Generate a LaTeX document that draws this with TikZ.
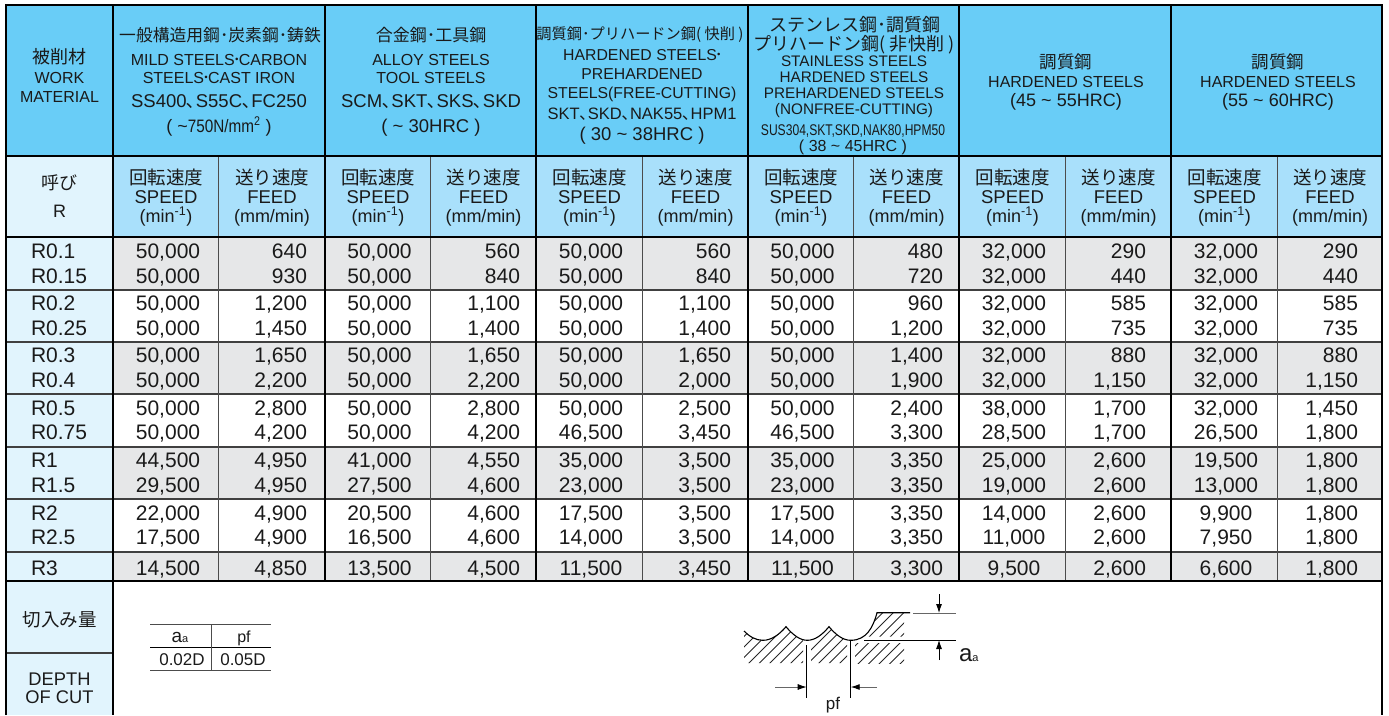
\documentclass[tikz,border=0pt]{standalone}
\usepackage{fontspec}
\usepackage{graphicx}
\setmainfont{Liberation Sans}
\newfontfamily\jp{Noto Sans CJK JP}
\newcommand\fs[1]{\fontsize{#1}{#1}\selectfont}
\newcommand\tl{\textasciitilde{}}
\newcommand\dt{{\kern-2pt\jp･\kern-2pt}}
\definecolor{hdr}{HTML}{69CDF7}
\definecolor{sub}{HTML}{A9E0FB}
\definecolor{pale}{HTML}{E1F4FD}
\definecolor{rowg}{HTML}{E6E7E8}
\definecolor{ink}{HTML}{1A1A1A}
\usetikzlibrary{arrows.meta}
\tikzset{
  txt/.style={anchor=base,inner sep=0pt,outer sep=0pt,text=ink},
  rtxt/.style={anchor=base east,inner sep=0pt,outer sep=0pt,text=ink},
  ltxt/.style={anchor=base west,inner sep=0pt,outer sep=0pt,text=ink},
  major/.style={line width=1.3pt,draw=black},
  minor/.style={line width=1pt,draw=black!70},
  rowline/.style={line width=1.3pt,draw=black!75},
  thin rule/.style={line width=.8pt,draw=black!70},
  dim/.style={line width=.8pt,draw=black},
  dimg/.style={line width=.9pt,draw=black!60},
  hatch/.style={line width=.8pt,draw=black!85},
  tipa/.style={-{Latex[length=9pt,width=6pt,black]}},
}
\newcommand\RW[3]{%
  \node[ltxt,font=\fs{21}] (lbl#1) at (31,#2) {#3};
}
\newcommand\DATA[3]{%
  \foreach \v [count=\i from 0] in {#3} {
    \pgfmathtruncatemacro\ev{int(mod(\i,2))}
    \pgfmathsetmacro\px{{168,307,379.5,520,591,731,802.5,943,1014,1146,1226,1358}[\i]}
    \ifnum\ev=0
      \node[txt,font=\fs{21}] (d#1-\i) at (\px,#2) {\v};
    \else
      \node[rtxt,font=\fs{21}] (d#1-\i) at (\px,#2) {\v};
    \fi
  }
}
\begin{document}
\begin{tikzpicture}[x=1pt,y=-1pt]
\useasboundingbox (0,0) rectangle (1389,715);
% fills
\fill[hdr] (6,5) rectangle (1382,156);
\fill[sub] (113,156) rectangle (1382,237);
\fill[pale] (6,156) rectangle (113,715);
\foreach \a/\b in {237/290,342/394,447/499,552/581}
  \fill[rowg] (113,\a) rectangle (1382,\b);
% rules
\foreach \y in {290,342,394,447,499,552} \draw[rowline] (6,\y) -- (1382,\y);
\draw[rowline] (6,653) -- (113,653);
\foreach \x in {218.5,430,642,853,1065,1277} \draw[minor] (\x,156) -- (\x,581);
\foreach \x in {325,536,748,959,1171} \draw[major] (\x,5) -- (\x,581);
\draw[major] (6,715) -- (6,5) -- (1382,5) -- (1382,715);
\draw[major] (113,5) -- (113,715);
\foreach \y in {156,237,581} \draw[major] (6,\y) -- (1382,\y);
% col 0
\node[txt,font=\jp\fs{18}] (h0a) at (59.5,63) {被削材};
\node[txt,font=\fs{16}] (h0b) at (59.5,83) {WORK};
\node[txt,font=\fs{16}] (h0c) at (59.5,102) {MATERIAL};
\node[txt,font=\jp\fs{18}] (h0d) at (59.5,189) {呼び};
\node[txt,font=\fs{18}] (h0e) at (59.5,217) {R};
% col 1
\node[txt,font=\jp\fs{16.8}] (h1a) at (220,41) {一般構造用鋼･炭素鋼･鋳鉄};
\node[txt,font=\fs{16}] (h1b) at (219,65) {MILD STEELS\dt CARBON};
\node[txt,font=\fs{16}] (h1c) at (219,83) {STEELS\dt CAST IRON};
\node[txt,font=\fs{18.5}] (h1d) at (219,107) {SS400{\jp､}S55C{\jp､}FC250};
\node[txt,font=\fs{18}] (h1e) at (219,132) {( \tl\scalebox{.85}[1]{750N/mm\textsuperscript{2}} )};
% col 2
\node[txt,font=\jp\fs{17}] (h2a) at (431,41) {合金鋼･工具鋼};
\node[txt,font=\fs{16}] (h2b) at (431,65) {ALLOY STEELS};
\node[txt,font=\fs{16}] (h2c) at (431,83) {TOOL STEELS};
\node[txt,font=\fs{18.5}] (h2d) at (431,107) {SCM{\jp､}SKT{\jp､}SKS{\jp､}SKD};
\node[txt,font=\fs{18.5}] (h2e) at (431,132) {( \tl{} 30HRC )};
% col 3
\node[txt,font=\jp\fs{15.2}] (h3a) at (640,39) {調質鋼･プリハードン鋼( 快削 )};
\node[txt,font=\fs{15.8}] (h3b) at (642,60) {HARDENED STEELS\dt};
\node[txt,font=\fs{15.8}] (h3c) at (642,79) {PREHARDENED};
\node[txt,font=\fs{15.8}] (h3d) at (642,98) {STEELS(FREE-CUTTING)};
\node[txt,font=\fs{16.5}] (h3e) at (642,119) {SKT{\jp､}SKD{\jp､}NAK55{\jp､}HPM1};
\node[txt,font=\fs{18.5}] (h3f) at (642,140) {( 30 \tl{} 38HRC )};
% col 4
\node[txt,font=\jp\fs{18}] (h4a) at (855,31) {ステンレス鋼･調質鋼};
\node[txt,font=\jp\fs{18}] (h4b) at (854,50) {プリハードン鋼( 非快削 )};
\node[txt,font=\fs{15.3}] (h4c) at (854,66) {STAINLESS STEELS};
\node[txt,font=\fs{15.3}] (h4d) at (854,82) {HARDENED STEELS};
\node[txt,font=\fs{15.3}] (h4e) at (854,98) {PREHARDENED STEELS};
\node[txt,font=\fs{15.3}] (h4f) at (854,114) {(NONFREE-CUTTING)};
\node[txt,font=\fs{15.5}] (h4g) at (853,135) {\scalebox{.78}[1]{SUS304,SKT,SKD,NAK80,HPM50}};
\node[txt,font=\fs{16}] (h4h) at (853,151) {( 38 \tl{} 45HRC )};
% col 5, 6
\node[txt,font=\jp\fs{17.5}] (h5a) at (1066,68) {調質鋼};
\node[txt,font=\fs{16}] (h5b) at (1066,87) {HARDENED STEELS};
\node[txt,font=\fs{18}] (h5c) at (1066,106) {(45 \tl{} 55HRC)};
\node[txt,font=\jp\fs{17.5}] (h6a) at (1278,68) {調質鋼};
\node[txt,font=\fs{16}] (h6b) at (1278,87) {HARDENED STEELS};
\node[txt,font=\fs{18}] (h6c) at (1278,106) {(55 \tl{} 60HRC)};
% sub-headers
\foreach \cx/\cf/\n in {166/272/1,378/483.5/2,589.5/695.5/3,801/906.5/4,1012.5/1118.5/5,1224.5/1330/6} {
  \node[txt,font=\jp\fs{18.5}] (s\n a) at (\cx,184) {回転速度};
  \node[txt,font=\fs{18.5}] (s\n b) at (\cx,203) {SPEED};
  \node[txt,font=\fs{18}] (s\n c) at (\cx,222) {(min\textsuperscript{-1})};
  \node[txt,font=\jp\fs{18.5}] (f\n a) at (\cf,184) {送り速度};
  \node[txt,font=\fs{18.5}] (f\n b) at (\cf,203) {FEED};
  \node[txt,font=\fs{18}] (f\n c) at (\cf,222) {(mm/min)};
}
% data
\RW{a}{258}{R0.1}
\DATA{a}{258}{{50,000},640,{50,000},560,{50,000},560,{50,000},480,{32,000},290,{32,000},290}
\RW{b}{283}{R0.15}
\DATA{b}{283}{{50,000},930,{50,000},840,{50,000},840,{50,000},720,{32,000},440,{32,000},440}
\RW{c}{310.5}{R0.2}
\DATA{c}{310.5}{{50,000},{1,200},{50,000},{1,100},{50,000},{1,100},{50,000},960,{32,000},585,{32,000},585}
\RW{d}{335}{R0.25}
\DATA{d}{335}{{50,000},{1,450},{50,000},{1,400},{50,000},{1,400},{50,000},{1,200},{32,000},735,{32,000},735}
\RW{e}{362.5}{R0.3}
\DATA{e}{362.5}{{50,000},{1,650},{50,000},{1,650},{50,000},{1,650},{50,000},{1,400},{32,000},880,{32,000},880}
\RW{f}{387}{R0.4}
\DATA{f}{387}{{50,000},{2,200},{50,000},{2,200},{50,000},{2,000},{50,000},{1,900},{32,000},{1,150},{32,000},{1,150}}
\RW{g}{415}{R0.5}
\DATA{g}{415}{{50,000},{2,800},{50,000},{2,800},{50,000},{2,500},{50,000},{2,400},{38,000},{1,700},{32,000},{1,450}}
\RW{h}{439.5}{R0.75}
\DATA{h}{439.5}{{50,000},{4,200},{50,000},{4,200},{46,500},{3,450},{46,500},{3,300},{28,500},{1,700},{26,500},{1,800}}
\RW{i}{467}{R1}
\DATA{i}{467}{{44,500},{4,950},{41,000},{4,550},{35,000},{3,500},{35,000},{3,350},{25,000},{2,600},{19,500},{1,800}}
\RW{j}{492}{R1.5}
\DATA{j}{492}{{29,500},{4,950},{27,500},{4,600},{23,000},{3,500},{23,000},{3,350},{19,000},{2,600},{13,000},{1,800}}
\RW{k}{520}{R2}
\DATA{k}{520}{{22,000},{4,900},{20,500},{4,600},{17,500},{3,500},{17,500},{3,350},{14,000},{2,600},{9,900},{1,800}}
\RW{l}{544.5}{R2.5}
\DATA{l}{544.5}{{17,500},{4,900},{16,500},{4,600},{14,000},{3,500},{14,000},{3,350},{11,000},{2,600},{7,950},{1,800}}
\RW{m}{575}{R3}
\DATA{m}{575}{{14,500},{4,850},{13,500},{4,500},{11,500},{3,450},{11,500},{3,300},{9,500},{2,600},{6,600},{1,800}}
% bottom left
\node[txt,font=\jp\fs{18.5}] (b1) at (59.5,626) {切入み量};
\node[txt,font=\fs{18.3}] (b2) at (59.5,685) {DEPTH};
\node[txt,font=\fs{18.3}] (b3) at (59.5,703) {OF CUT};
% small table
\draw[thin rule] (150,624) -- (271,624);
\draw[thin rule,draw=black] (150,647) -- (271,647);
\draw[thin rule] (150,670) -- (271,670);
\draw[thin rule] (211,624) -- (211,670);
\node[txt,font=\fs{19}] (t1) at (180,642) {a{\fs{11}a}};
\node[txt,font=\fs{16}] (t2) at (244,642) {pf};
\node[txt,font=\fs{17}] (t3) at (182,665) {0.02D};
\node[txt,font=\fs{17}] (t4) at (243,665) {0.05D};
% hatching
\begin{scope}
\clip (744,631) .. controls (750,637) and (756,640.3) .. (763,640.3) .. controls (771,640.3) and (779,635) .. (786,626.7)
  .. controls (793,635) and (800,640.3) .. (803,640.3) -- (803,663) -- (744,663) -- cycle;
\foreach \k in {0,...,14} \draw[hatch] (\k*10.5+700,670) -- ++(60,-60);
\end{scope}
\begin{scope}
\clip (811,640) .. controls (817,640) and (822,635) .. (829,626.7)
  .. controls (836,635) and (842,640) .. (847,640.3) -- (847,663) -- (811,663) -- cycle;
\foreach \k in {0,...,10} \draw[hatch] (\k*10.5+770,670) -- ++(60,-60);
\end{scope}
\begin{scope}
\clip (855,643) -- (904,643) -- (904,663) -- (855,663) -- cycle;
\foreach \k in {0,...,10} \draw[hatch] (\k*10.5+810,670) -- ++(60,-60);
\end{scope}
\begin{scope}
\clip (865,636.5) .. controls (871,631) and (875,622) .. (877,612.7) -- (904,612.7) -- (904,636.5) -- cycle;
\foreach \k in {0,...,10} \draw[hatch] (\k*10.5+840,645) -- ++(40,-40);
\end{scope}
% profile
\draw[line width=1.1pt,black] (744,631) .. controls (750,637) and (756,640.3) .. (763,640.3) .. controls (771,640.3) and (779,635) .. (786,626.7)
  .. controls (793,635) and (800,640.3) .. (807.3,640.3) .. controls (815,640.3) and (822,635) .. (829,626.7)
  .. controls (836,635) and (843,640.3) .. (850.7,640.3) .. controls (866,640.3) and (873,628) .. (877,612.7) -- (910,612.7);
% dimension lines
\coordinate (aTop) at (939,613);
\coordinate (aBot) at (939,640);
\coordinate (aTopEnd) at (939,594);
\coordinate (aBotEnd) at (939,660);
\coordinate (p1) at (806.7,687);
\coordinate (p2) at (850.7,687);
\coordinate (p1e) at (775,687);
\coordinate (p2e) at (877,687);
\draw[dimg] (913,613) -- (956,613);
\draw[dim] (864,640) -- (956,640);
\draw[dim,tipa] (aTopEnd) -- (aTop);
\draw[dim,tipa] (aBotEnd) -- (aBot);
\draw[dim] (806.7,645) -- (806.7,698);
\draw[dim] (850.7,641) -- (850.7,698);
\draw[dimg,tipa] (p1e) -- (p1);
\draw[dimg,tipa] (p2e) -- (p2);
\node[txt,font=\fs{17}] (pf) at (833,709) {pf};
\node[ltxt,font=\fs{24}] (aa) at (959,661) {a{\fs{11}a}};
\end{tikzpicture}
\end{document}
